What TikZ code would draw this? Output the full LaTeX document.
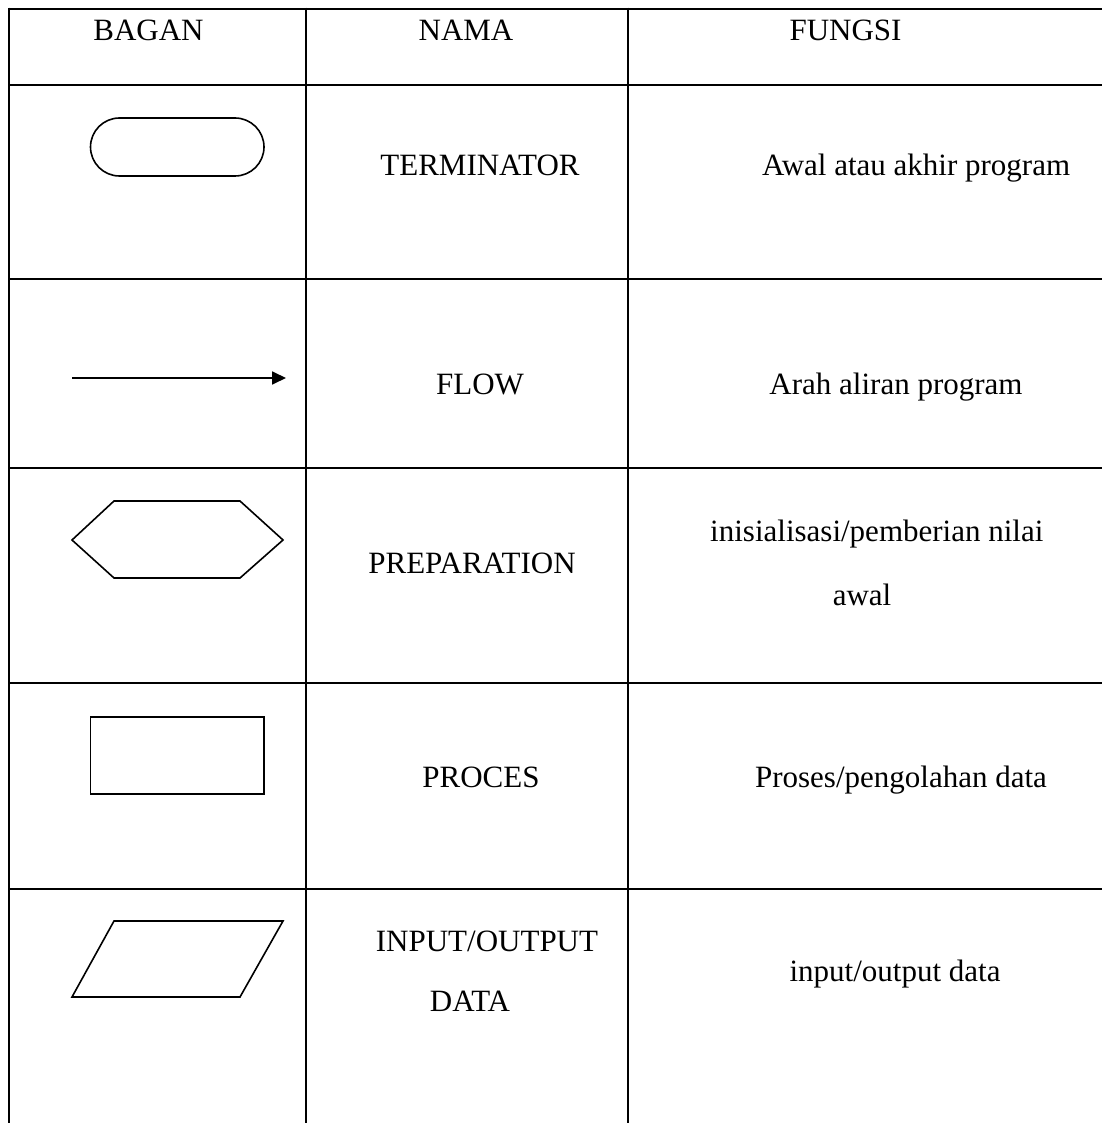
\documentclass[tikz,border=0pt]{standalone}
\usepackage{fontspec}
\setmainfont{Liberation Serif}
\usetikzlibrary{arrows.meta}
\begin{document}
\begin{tikzpicture}[x=1pt,y=-1pt,
  grid/.style={line width=2.6pt},
  shapeline/.style={line width=1.6pt, line join=miter},
  txt/.style={inner sep=0pt, anchor=base, font=\fontsize{31}{37}\selectfont}]
\useasboundingbox[fill=white] (0,0) rectangle (1102,1123);
% table rules
\draw[grid] (9,9) -- (1102,9);
\draw[grid] (9,85) -- (1102,85);
\draw[grid] (9,279) -- (1102,279);
\draw[grid] (9,468) -- (1102,468);
\draw[grid] (9,683) -- (1102,683);
\draw[grid] (9,889) -- (1102,889);
\draw[grid] (9,7.7) -- (9,1123);
\draw[grid] (306,7.7) -- (306,1123);
\draw[grid] (628,7.7) -- (628,1123);
% header
\node[txt] (hbagan) at (148.5,41) {BAGAN};
\node[txt] (hnama) at (466,41) {NAMA};
\node[txt] (hfungsi) at (845.5,41) {FUNGSI};
% terminator
\draw[shapeline, rounded corners=29pt] (90.5,118) rectangle (264,176);
\node[txt] (nterm) at (480,176) {TERMINATOR};
\node[txt, anchor=base west] (fterm) at (762,176) {Awal atau akhir program};
% flow
\coordinate (fs) at (72,378);
\coordinate (fe) at (286,378);
\draw[line width=1.8pt, -{Triangle[length=14pt,width=13pt]}] (fs) -- (fe);
\node[txt] (nflow) at (480,394) {FLOW};
\node[txt] (fflow) at (896,394) {Arah aliran program};
% preparation
\draw[shapeline] (72,540) -- (114,501) -- (240,501) -- (283,540) -- (240,578) -- (114,578) -- cycle;
\node[txt] (nprep) at (472,573) {PREPARATION};
\node[txt, anchor=base west] (fprep1) at (710,541) {inisialisasi/pemberian nilai};
\node[txt] (fprep2) at (862,605) {awal};
% proces
\draw[shapeline] (90.5,717) rectangle (264,794);
\node[txt] (nproc) at (481,787) {PROCES};
\node[txt] (fproc) at (901,787) {Proses/pengolahan data};
% input/output
\draw[shapeline] (114,921) -- (283,921) -- (240,997) -- (72,997) -- cycle;
\node[txt] (nio1) at (487,951) {INPUT/OUTPUT};
\node[txt] (nio2) at (470,1011) {DATA};
\node[txt] (fio) at (895,981) {input/output data};
\end{tikzpicture}
\end{document}
